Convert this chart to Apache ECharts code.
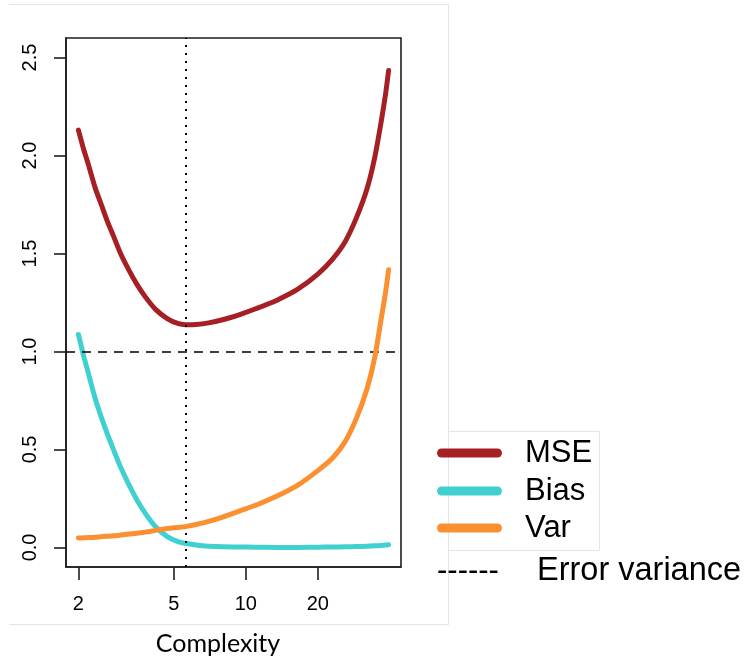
<!DOCTYPE html>
<html>
<head>
<meta charset="utf-8">
<script src="https://cdn.jsdelivr.net/npm/echarts@6/dist/echarts.min.js"></script>
<style>
  html, body { margin: 0; padding: 0; background: #ffffff; }
  #chart { width: 746px; height: 660px; }
</style>
</head>
<body>
<div id="chart"></div>
<script>
// ---- data ----
const complexity = [2, 2.1, 2.2, 2.35, 2.5, 2.65, 2.8, 3, 3.25, 3.5, 3.8, 4.2, 4.7, 5.2, 5.6, 6.2, 7, 8, 9.5, 11, 13.5, 16.5, 20, 23, 26, 29, 32, 34.5, 36.8, 38.4, 39.5];
const mseValues  = [2.13, 2.035, 1.955, 1.835, 1.745, 1.66, 1.59, 1.50, 1.415, 1.345, 1.28, 1.215, 1.168, 1.143, 1.137, 1.138, 1.146, 1.162, 1.19, 1.218, 1.262, 1.318, 1.395, 1.47, 1.56, 1.683, 1.825, 1.985, 2.175, 2.318, 2.434];
const biasValues = [1.087, 0.98, 0.89, 0.76, 0.66, 0.575, 0.50, 0.41, 0.32, 0.245, 0.175, 0.105, 0.055, 0.030, 0.021, 0.012, 0.006, 0.003, 0.002, 0.001, 0.0, 0.0, 0.001, 0.002, 0.003, 0.004, 0.006, 0.008, 0.010, 0.012, 0.014];
const varValues  = [0.048, 0.049, 0.050, 0.052, 0.055, 0.057, 0.059, 0.063, 0.068, 0.072, 0.078, 0.087, 0.097, 0.102, 0.106, 0.117, 0.133, 0.155, 0.188, 0.215, 0.262, 0.318, 0.392, 0.455, 0.54, 0.66, 0.805, 0.964, 1.169, 1.306, 1.417];
const seriesNames = ['MSE', 'Bias', 'Var'];
const errorVariance = 1.0;
const optimalComplexity = 5.6;
const xTicks = [2, 5, 10, 20];
const yTicks = [0, 0.5, 1.0, 1.5, 2.0, 2.5];
const xAxisTitle = 'Complexity';
const legendExtraLabel = 'Error variance';
const legendDashText = '------';

// ---- styles ----
const colors = ['#a61f24', '#40d0d0', '#fb9030'];
const pair = (xs, ys) => xs.map((x, i) => [x, ys[i]]);
const allValues = [mseValues, biasValues, varValues];

const chart = echarts.init(document.getElementById('chart'), null, { renderer: 'canvas' });

const series = seriesNames.map((name, i) => ({
  name: name,
  type: 'line',
  data: pair(complexity, allValues[i]),
  showSymbol: false,
  smooth: 0.25,
  z: 3 + i,
  lineStyle: { color: colors[i], width: 5, cap: 'round', join: 'round' },
  itemStyle: { color: colors[i] }
}));

series.push({
  name: 'refs',
  type: 'line',
  data: [],
  z: 10,
  markLine: {
    silent: true,
    symbol: ['none', 'none'],
    label: { show: false },
    emphasis: { disabled: true },
    data: [
      { yAxis: errorVariance, lineStyle: { color: '#000', width: 1.6, type: [9, 7] } },
      { xAxis: optimalComplexity, lineStyle: { color: '#000', width: 2, type: [2, 6] } }
    ]
  }
});

const legendRowsY = [453, 491, 528];
const graphics = [
  { type: 'line', shape: { x1: 9, y1: 4.5, x2: 448.5, y2: 4.5 }, style: { stroke: '#e4e4e4', lineWidth: 1 } },
  { type: 'line', shape: { x1: 448.5, y1: 4.5, x2: 448.5, y2: 624.5 }, style: { stroke: '#e4e4e4', lineWidth: 1 } },
  { type: 'line', shape: { x1: 9, y1: 624.5, x2: 448.5, y2: 624.5 }, style: { stroke: '#e4e4e4', lineWidth: 1 } },
  { type: 'rect', shape: { x: 448.5, y: 431.5, width: 151, height: 119 }, style: { fill: '#fff', stroke: '#e4e4e4', lineWidth: 1 } }
];
seriesNames.forEach((name, i) => {
  graphics.push({ type: 'line', shape: { x1: 441.5, y1: legendRowsY[i], x2: 497.5, y2: legendRowsY[i] },
    style: { stroke: colors[i], lineWidth: 9, lineCap: 'round' } });
  graphics.push({ type: 'text', style: { x: 525, y: legendRowsY[i], text: name, fill: '#000',
    font: '31px "Liberation Sans", Arial, sans-serif', verticalAlign: 'middle', align: 'left' } });
});
graphics.push({ type: 'text', style: { x: 437, y: 571, text: legendDashText, fill: '#000',
  font: '31px "Liberation Sans", Arial, sans-serif', verticalAlign: 'middle', align: 'left' } });
graphics.push({ type: 'text', style: { x: 537, y: 571, text: legendExtraLabel, fill: '#000',
  font: '32.5px "Liberation Sans", Arial, sans-serif', verticalAlign: 'middle', align: 'left' } });

const option = {
  animation: false,
  backgroundColor: '#ffffff',
  grid: {
    left: 66, top: 38, right: 345, bottom: 93,
    show: true, borderColor: '#1e1e1e', borderWidth: 1.6, backgroundColor: 'transparent',
    containLabel: false, outerBoundsMode: 'none'
  },
  xAxis: {
    type: 'log',
    logBase: 10,
    min: 1.775,
    max: 44.5,
    name: xAxisTitle,
    nameLocation: 'middle',
    nameGap: 64,
    nameTextStyle: { fontFamily: 'Lato', fontSize: 25, color: '#000', padding: [0, 31, 0, 0] },
    axisLine: { show: true, onZero: false, lineStyle: { color: '#1e1e1e', width: 1.6 } },
    splitLine: { show: false },
    minorTick: { show: false },
    axisTick: { show: true, length: 13, customValues: xTicks, lineStyle: { color: '#1e1e1e', width: 1.6 } },
    axisLabel: { customValues: xTicks, margin: 27, fontFamily: '"Liberation Sans", Arial', fontSize: 20, color: '#000',
      formatter: v => String(Math.round(v)) }
  },
  yAxis: {
    type: 'value',
    min: -0.1,
    max: 2.6,
    axisLine: { show: true, onZero: false, lineStyle: { color: '#1e1e1e', width: 1.6 } },
    splitLine: { show: false },
    axisTick: { show: true, length: 12, customValues: yTicks, lineStyle: { color: '#1e1e1e', width: 1.6 } },
    axisLabel: { customValues: yTicks, rotate: 90, margin: 26, fontFamily: '"Liberation Sans", Arial', fontSize: 20, color: '#000',
      formatter: v => Number(v).toFixed(1) }
  },
  series: series,
  graphic: graphics
};
chart.setOption(option);
</script>
</body>
</html>
